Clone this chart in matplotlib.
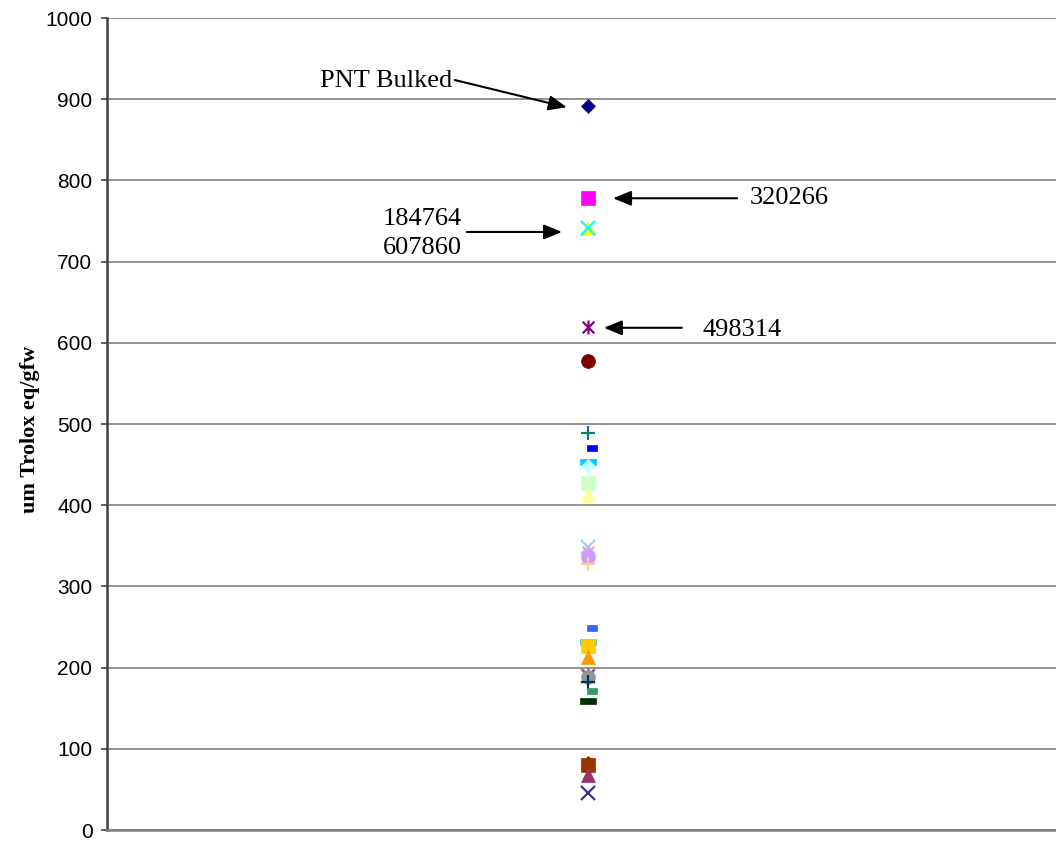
import matplotlib
matplotlib.use('Agg')
import matplotlib.pyplot as plt
from matplotlib.path import Path

# Antioxidant capacity per sample (um Trolox eq/gfw), in series order
values = [892, 778, 741, 741, 619, 578, 489, 470, 453, 448,
          427, 413, 348, 342, 336, 328, 249, 231, 227, 227,
          213, 190, 191, 188, 182, 171, 159, 83, 80, 68, 46]

# Excel-style series colours
colors = ['#000080', '#FF00FF', '#FFFF00', '#00FFFF', '#800080', '#800000',
          '#008080', '#0000FF', '#00CCFF', '#CCFFFF', '#CCFFCC', '#FFFF99',
          '#99CCFF', '#FF99CC', '#CC99FF', '#FFCC99', '#3366FF', '#33CCCC',
          '#99CC00', '#FFCC00', '#FF9900', '#FF6600', '#666699', '#969696',
          '#003366', '#339966', '#003300', '#333300', '#993300', '#993366',
          '#333399']

# labelled samples: (text, value)
labels = ['PNT Bulked', '320266', '184764\n607860', '498314']
label_values = [892, 778, 741, 619]

# marker shapes that Excel cycles through
star = Path([(-1, -1), (1, 1), (-1, 1), (1, -1), (0, -1.2), (0, 1.2)],
            [Path.MOVETO, Path.LINETO] * 3)
dot = Path([(-0.1, -0.3), (1, -0.3), (1, 0.3), (-0.1, 0.3), (-0.1, -0.3)])
dash = Path([(-1, -0.35), (1, -0.35), (1, 0.35), (-1, 0.35), (-1, -0.35)])
marker_cycle = [('D', 7.4, True), ('s', 10, True), ('^', 10, True),
                ('x', 10, False), (star, 10, False), ('o', 10, True),
                ('+', 10, False), (dot, 13, True), (dash, 11.5, True)]

fig = plt.figure(figsize=(10.56, 8.42), dpi=100)
ax = fig.add_axes([107 / 1056, 12 / 842, 962 / 1056, 812 / 842])

for i, v in enumerate(values):
    m, ms, filled = marker_cycle[i % len(marker_cycle)]
    if filled:
        ax.plot(1, v, marker=m, ms=ms, color=colors[i], mec=colors[i],
                mew=0.5, linestyle='none', zorder=3 + i * 0.01)
    else:
        ax.plot(1, v, marker=m, ms=ms, mfc='none', mec=colors[i],
                mew=1.6, linestyle='none', zorder=3 + i * 0.01)

ax.set_xlim(0, 2)
ax.set_ylim(0, 1000)
ax.set_yticks(range(0, 1001, 100))
ax.set_xticks([])
ax.yaxis.grid(True, color='#808080', linewidth=1.2)
ax.set_axisbelow(True)

for s in ['top', 'right']:
    ax.spines[s].set_visible(False)
ax.spines['left'].set_color('#404040')
ax.spines['left'].set_linewidth(1.8)
ax.spines['bottom'].set_color('#808080')
ax.spines['bottom'].set_linewidth(1.8)
ax.tick_params(axis='y', direction='out', length=4.5, width=1.2,
               color='#404040', pad=6, labelsize=15)
for t in ax.get_yticklabels():
    t.set_fontfamily('Liberation Sans')

ax.set_ylabel('um Trolox eq/gfw', fontfamily='Liberation Serif',
              fontweight='bold', fontsize=16)
ax.yaxis.set_label_coords(-0.07, 0.493)

# arrows and sample labels
arrow = dict(arrowstyle='-|>,head_length=1.1,head_width=0.45', color='black',
             lw=1.5, shrinkA=0, shrinkB=0)
tfont = dict(fontfamily='Liberation Serif', fontsize=19)

ax.annotate('', xy=(0.956, 890), xytext=(0.723, 923.6), arrowprops=arrow)
ax.text(0.717, 922, labels[0], ha='right', va='center', **tfont)

ax.annotate('', xy=(1.052, label_values[1]), xytext=(1.31, label_values[1]),
            arrowprops=arrow)
ax.text(1.337, label_values[1], labels[1], ha='left', va='center', **tfont)

ax.annotate('', xy=(0.946, 736.5), xytext=(0.748, 736.5), arrowprops=arrow)
ax.text(0.738, 735, labels[2], ha='right', va='center', linespacing=1.4,
        **tfont)

ax.annotate('', xy=(1.033, 618.5), xytext=(1.195, 618.5), arrowprops=arrow)
ax.text(1.239, 616, labels[3], ha='left', va='center', **tfont)

plt.savefig('out.png', dpi=100)
